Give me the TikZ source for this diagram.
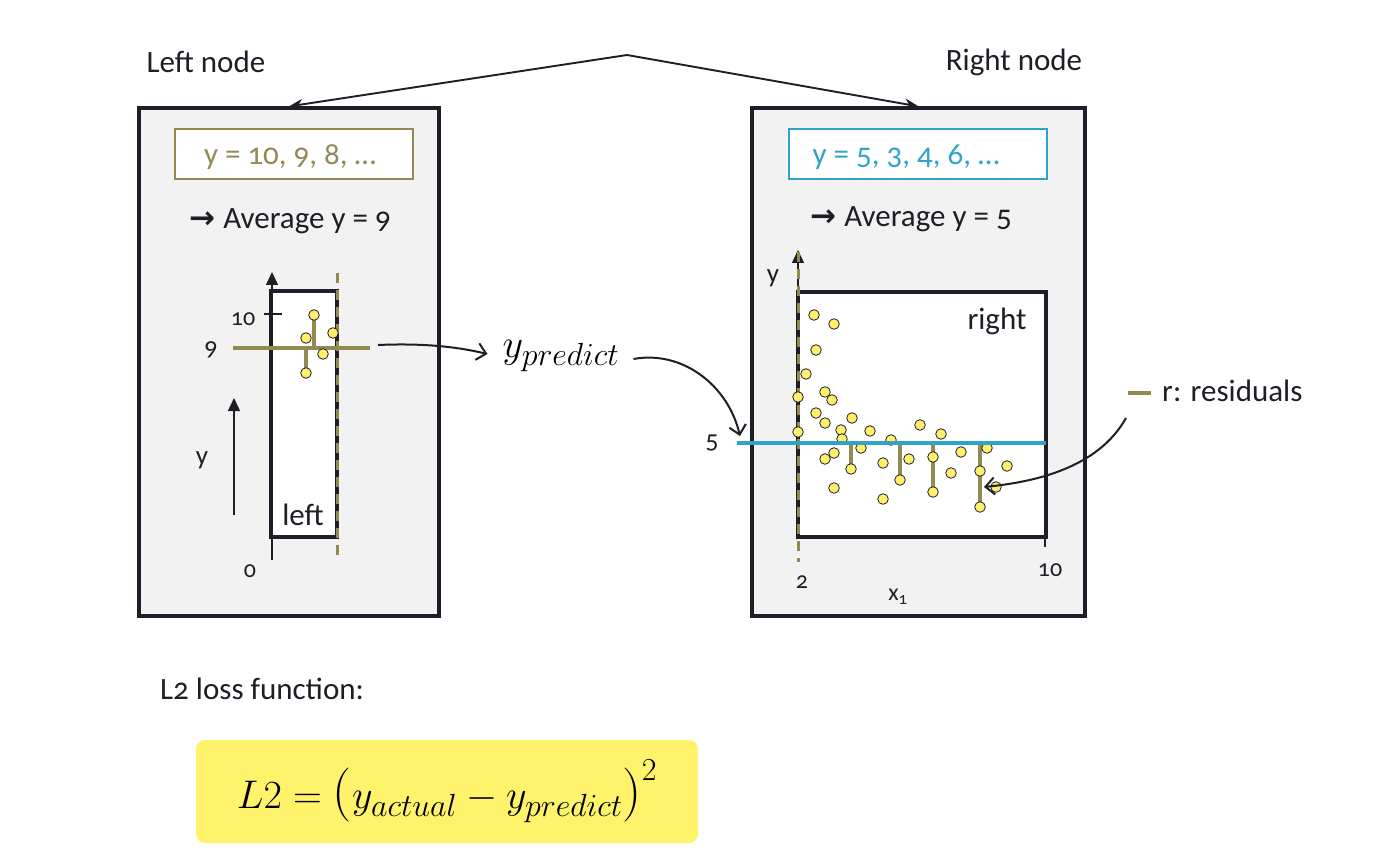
\RequirePackage{fix-cm}
\documentclass[tikz,border=0pt]{standalone}
\usepackage{fontspec}
\setmainfont{Carlito}[Numbers=OldStyle]
\newfontfamily\symfont{DejaVu Sans}
\DeclareMathSizes{40}{40}{32}{24}
\usetikzlibrary{arrows.meta}
\newcommand\myparL{\mathopen{\hbox{\fontsize{54}{54}\usefont{OT1}{cmr}{m}{n}(}}}
\newcommand\myparR{\mathclose{\hbox{\fontsize{54}{54}\usefont{OT1}{cmr}{m}{n})}}}
\definecolor{ink}{HTML}{1E1E26}
\definecolor{olv}{HTML}{938953}
\definecolor{sky}{HTML}{31A3CB}
\definecolor{panelgray}{HTML}{F2F2F2}
\definecolor{dotyellow}{HTML}{FFEF6A}
\definecolor{boxyellow}{HTML}{FFF36C}
\begin{document}
\begin{tikzpicture}[x=1pt,y=-1pt,
  txt/.style={font=\fontsize{31}{34}\selectfont, text=ink, inner sep=0pt},
  small/.style={font=\fontsize{24}{27}\selectfont, text=ink, inner sep=0pt},
  panel/.style={draw=ink, line width=3.2pt, fill=panelgray, inner sep=0pt},
  valbox/.style={line width=2.6pt, fill=white, inner sep=0pt},
  plotbox/.style={draw=ink, line width=3.2pt, fill=white, inner sep=0pt},
  dot/.style={fill=dotyellow, draw=ink, line width=0.8pt},
  resid/.style={draw=olv, line width=3.2pt},
  axis/.style={draw=ink, line width=1.4pt, -{Triangle[length=13pt,width=12pt]}},
  vdash/.style={draw=olv, line width=3pt, dash pattern=on 10pt off 7pt},
  curvearrow/.style={draw=ink, line width=2pt, -{Straight Barb[length=9pt,width=17pt]}},
  toparrow/.style={draw=ink, line width=1.9pt, -{Stealth[length=14pt,width=11pt]}},
]
\fill[white] (0,0) rectangle (1400,858);
\useasboundingbox (0,0) rectangle (1400,858);

% titles and panels
\node[txt] (lname) at (206,62) {Left node};
\node[txt] (rname) at (1014,62) {Right node};
\node[panel, minimum width=300pt, minimum height=508pt] (L) at (289,362) {};
\node[panel, minimum width=333pt, minimum height=508pt] (R) at (918.5,362) {};
\coordinate (apex) at (627,55);
\draw[toparrow] (apex) -- (L.north);
\draw[toparrow] (apex) -- (R.north);

% value boxes
\node[valbox, draw=olv, minimum width=238pt, minimum height=50pt] (lvals) at (294,154) {};
\node[txt, text=olv] (lvalt) at (290,157) {y = 10, 9, 8, …};
\node[valbox, draw=sky, minimum width=258pt, minimum height=50pt] (rvals) at (918,154) {};
\node[txt, text=sky] (rvalt) at (906,157) {y = 5, 3, 4, 6, …};
\node[txt] (lavg) at (290,221) {{\symfont\bfseries →}\hspace{8pt}Average y = 9};
\node[txt] (ravg) at (911,219) {{\symfont\bfseries →}\hspace{8pt}Average y = 5};

% left plot
\node[plotbox, minimum width=66pt, minimum height=246pt] (lplot) at (304,414) {};
\draw[axis] (272,560) -- (272,272);
\draw[vdash] (337,273) -- (337,562);
\draw[ink, line width=1.1pt] (264,314) -- (282,314);
\node[small] (l10) at (243,319) {10};
\node[small, font=\fontsize{26}{28}\selectfont] (l9) at (211,350) {9};
\node[small] (l0) at (250,571) {0};
\node[small, font=\fontsize{27}{29}\selectfont] (ly) at (202,460) {y};
\node[txt] (lleft) at (303,515) {left};
\draw[axis] (234,515) -- (234,398);
\draw[resid] (314,315) -- (314,348);
\draw[resid] (306,348) -- (306,373);
\draw[draw=olv, line width=3.8pt] (233,348) -- (370,348);
\foreach \p in {(314,315),(306,338),(333,333),(323,354),(306,373)}
  \filldraw[dot] \p circle (5.3pt);

% right plot
\node[plotbox, minimum width=248pt, minimum height=245pt] (rplot) at (922,414.5) {};
\draw[axis] (798,537) -- (798,250);
\draw[vdash] (798,252) -- (798,562);
\draw[ink, line width=1.1pt] (1045,537) -- (1045,547);
\node[small] (r10) at (1050,570) {10};
\node[small] (r2) at (802,582) {2};
\node[small] (rx) at (898,597) {x\textsubscript{1}};
\node[small, font=\fontsize{27}{29}\selectfont] (ry) at (773,278) {y};
\node[txt] (rright) at (997,321) {right};
\node[small, font=\fontsize{26}{28}\selectfont] (r5) at (712,443) {5};
\draw[resid] (851,443) -- (851,469);
\draw[resid] (900,443) -- (900,480);
\draw[resid] (933,443) -- (933,492);
\draw[resid] (980,443) -- (980,507);
\foreach \p in {(814,315),(834,324),(816,350),(806,374),(798,397),(825,392),(832,400),
  (816,413),(825,423),(852,418),(841,430),(842,439),(798,432),(870,431),(891,440),
  (920,425),(941,434),(861,448),(834,453),(825,459),(851,469),(883,463),(909,459),
  (900,480),(933,457),(961,452),(987,448),(951,473),(980,471),(1007,466),(834,488),
  (883,499),(933,492),(996,487),(980,507)}
  \filldraw[dot] \p circle (5.3pt);
\draw[draw=sky, line width=4pt] (737,443) -- (1046,443);

% legend
\draw[draw=olv, line width=3.8pt] (1128,393) -- (1151,393);
\node[txt, anchor=west] (legend) at (1162,391) {r: residuals};
\coordinate (legstart) at (1126,418);
\coordinate (residtip) at (984,487);
\draw[curvearrow] (legstart) .. controls (1098,468) and (1035,482) .. (residtip);

% y_predict
\node[font=\fontsize{40}{44}\selectfont, inner sep=0pt] (ypred) at (561,356) {$y_{predict}$};
\coordinate (olend) at (378,345);
\coordinate (bluetip) at (740,436);
\draw[curvearrow] (olend) .. controls (425,343) and (458,347) .. ([xshift=-15pt,yshift=2pt]ypred.west);
\draw[curvearrow] ([xshift=14pt,yshift=-3pt]ypred.east) .. controls (682,350) and (728,385) .. (bluetip);

% loss
\node[txt, anchor=west] (losslbl) at (160,689) {L2 loss function:};
\node[fill=boxyellow, rounded corners=9pt, minimum width=502pt, minimum height=103pt, inner sep=0pt,
  font=\fontsize{40}{44}\selectfont] (formula) at (447,791.5) {$L2=\myparL y_{actual}-y_{predict}\myparR^{2}$};
\end{tikzpicture}
\end{document}
